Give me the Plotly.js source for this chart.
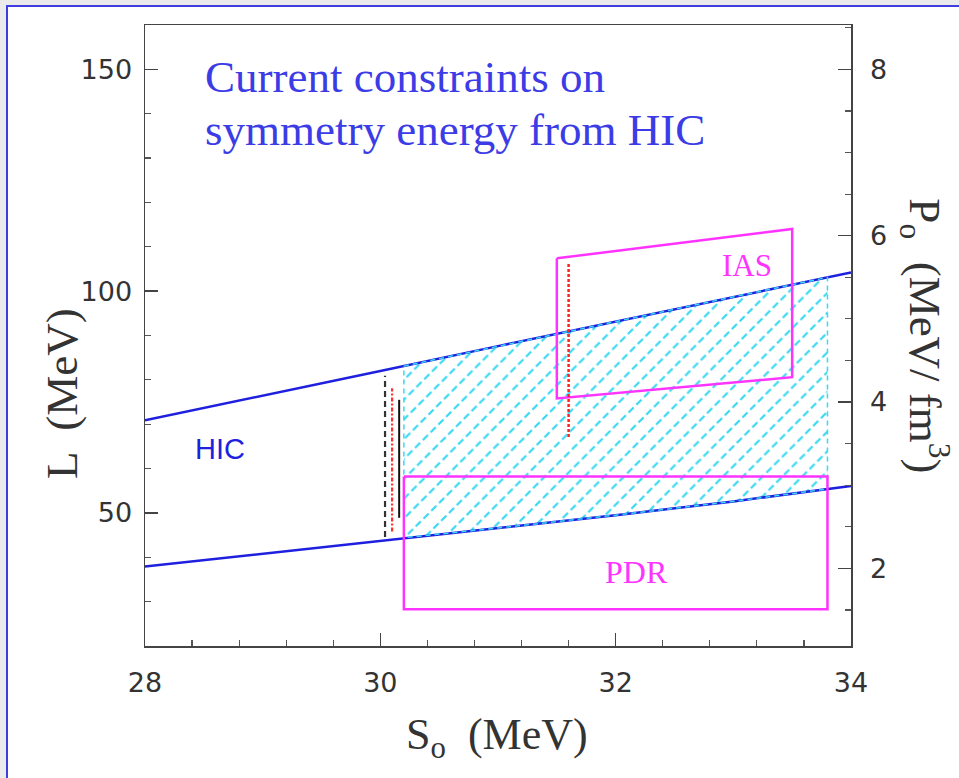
<!DOCTYPE html>
<html>
<head>
<meta charset="utf-8">
<script src="https://cdn.plot.ly/plotly-3.0.1.min.js"></script>
<style>
  html, body { margin: 0; padding: 0; background: #ebebeb; width: 959px; height: 778px; overflow: hidden; }
  #chart { position: absolute; left: 6px; top: 5px; width: 951px; height: 771px;
           border-left: 2px solid #3d3de0; border-top: 2px solid #3d3de0; background: #fff; }
</style>
</head>
<body>
<div id="chart"></div>
<script>
// HIC band boundaries (S0 in MeV, L in MeV)
const hicS = [28, 29, 30, 31, 32, 33, 34];
const hicUpperL = [70.9, 76.4, 82.0, 87.6, 93.1, 98.7, 104.2];
const hicLowerL = [37.9, 40.8, 43.8, 46.6, 49.5, 52.6, 56.1];

// hatched overlap region
const bandS = [30.2, 31, 32, 33, 33.8];
const bandUpperL = [83.1, 87.6, 93.1, 98.7, 103.1];
const bandLowerL = [44.4, 46.6, 49.5, 52.6, 55.4];

// IAS quadrilateral
const iasS = [31.5, 33.5, 33.5, 31.5, 31.5];
const iasL = [107.4, 114.0, 80.6, 75.8, 107.4];

// PDR rectangle
const pdrS = [30.2, 33.8, 33.8, 30.2, 30.2];
const pdrL = [58.2, 58.2, 28.3, 28.3, 58.2];

// vertical constraint segments
const segBlackDashS = [30.04, 30.04], segBlackDashL = [44.6, 80.9];
const segRedDashDotS = [30.10, 30.10], segRedDashDotL = [45.8, 78.1];
const segBlackSolidS = [30.16, 30.16], segBlackSolidL = [48.9, 75.5];
const segRedIasS = [31.6, 31.6], segRedIasL = [67.1, 106.5];

// axes
const xTicks = [28, 30, 32, 34];
const yTicks = [50, 100, 150];
const pTicks = [2, 4, 6, 8];
const yRange = [20, 160];
const rho0Over3 = 0.16 / 3;  // P0 = L * rho0 / 3

const blue = '#1f1fe0';
const magenta = '#ff33ff';
const cyan = '#3ad8f2';

const polyS = bandS.concat(bandS.slice().reverse(), [bandS[0]]);
const polyL = bandUpperL.concat(bandLowerL.slice().reverse(), [bandUpperL[0]]);

const traces = [
  { x: polyS, y: polyL, type: 'scatter', mode: 'lines', fill: 'toself',
    fillcolor: 'rgba(0,0,0,0)',
    fillpattern: { shape: '/', fgcolor: cyan, bgcolor: 'rgba(0,0,0,0)', size: 14, solidity: 0.16 },
    line: { color: 'rgba(0,0,0,0)', width: 0 }, hoverinfo: 'skip' },
  { x: polyS, y: polyL, type: 'scatter', mode: 'lines', fill: 'toself',
    fillcolor: 'rgba(0,0,0,0)',
    fillpattern: { shape: '\\', fgcolor: '#ffffff', bgcolor: 'rgba(0,0,0,0)', size: 11, solidity: 0.35 },
    line: { color: 'rgba(0,0,0,0)', width: 0 }, hoverinfo: 'skip' },
  { x: hicS, y: hicUpperL, type: 'scatter', mode: 'lines', line: { color: blue, width: 2.5 } },
  { x: hicS, y: hicLowerL, type: 'scatter', mode: 'lines', line: { color: blue, width: 2.5 } },
  { x: polyS, y: polyL, type: 'scatter', mode: 'lines', line: { color: cyan, width: 1.5, dash: '5px,4px' } },
  { x: iasS, y: iasL, type: 'scatter', mode: 'lines', line: { color: magenta, width: 2.5 } },
  { x: pdrS, y: pdrL, type: 'scatter', mode: 'lines', line: { color: magenta, width: 2.5 } },
  { x: segBlackDashS, y: segBlackDashL, type: 'scatter', mode: 'lines', line: { color: '#333', width: 2.2, dash: '6px,4px' } },
  { x: segRedDashDotS, y: segRedDashDotL, type: 'scatter', mode: 'lines', line: { color: '#ff3030', width: 2.2, dash: '4px,2px,2px,2px' } },
  { x: segBlackSolidS, y: segBlackSolidL, type: 'scatter', mode: 'lines', line: { color: '#111', width: 2 } },
  { x: segRedIasS, y: segRedIasL, type: 'scatter', mode: 'lines', line: { color: '#ff2020', width: 2.5, dash: '3px,2px' } },
  { x: [28, 34], y: [yRange[0] * rho0Over3, yRange[1] * rho0Over3], yaxis: 'y2', type: 'scatter',
    mode: 'markers', marker: { opacity: 0 }, hoverinfo: 'skip' }
];

const tickFont = { family: 'DejaVu Sans', size: 27, color: '#333' };
const serif = 'Liberation Serif';

const layout = {
  width: 951, height: 771,
  margin: { l: 137, r: 108, t: 18, b: 132 },
  paper_bgcolor: '#fff', plot_bgcolor: '#fff',
  showlegend: false,
  xaxis: {
    range: [28, 34], tickvals: xTicks, ticktext: xTicks.map(String),
    ticks: 'inside', ticklen: 13, tickwidth: 1.3, tickcolor: '#444',
    minor: { dtick: 0.4, tick0: 28, ticks: 'inside', ticklen: 6, tickwidth: 1.2, tickcolor: '#555' },
    showline: true, linecolor: '#444', linewidth: 1.5, mirror: true,
    showgrid: false, zeroline: false, tickfont: tickFont, ticklabelstandoff: 12
  },
  yaxis: {
    range: yRange, tickvals: yTicks, ticktext: yTicks.map(String),
    ticks: 'inside', ticklen: 13, tickwidth: 1.3, tickcolor: '#444',
    minor: { dtick: 10, tick0: 0, ticks: 'inside', ticklen: 6, tickwidth: 1.2, tickcolor: '#555' },
    showline: true, linecolor: '#444', linewidth: 1.5,
    showgrid: false, zeroline: false, tickfont: tickFont, ticklabelstandoff: 6
  },
  yaxis2: {
    overlaying: 'y', side: 'right',
    range: [yRange[0] * rho0Over3, yRange[1] * rho0Over3],
    tickvals: pTicks, ticktext: pTicks.map(String),
    ticks: 'inside', ticklen: 13, tickwidth: 1.3, tickcolor: '#444',
    minor: { dtick: 0.5, tick0: 0, ticks: 'inside', ticklen: 6, tickwidth: 1.2, tickcolor: '#555' },
    showline: true, linecolor: '#444', linewidth: 1.5,
    showgrid: false, zeroline: false, tickfont: tickFont, ticklabelstandoff: 12
  },
  annotations: [
    { text: 'Current constraints on', x: 28.49, y: 148.2, xref: 'x', yref: 'y', xanchor: 'left', yanchor: 'middle',
      showarrow: false, font: { family: serif, size: 45, color: '#3c3ce6' } },
    { text: 'symmetry energy from HIC', x: 28.49, y: 136.3, xref: 'x', yref: 'y', xanchor: 'left', yanchor: 'middle',
      showarrow: false, font: { family: serif, size: 45, color: '#3c3ce6' } },
    { text: 'HIC', x: 28.64, y: 64.4, xref: 'x', yref: 'y', showarrow: false,
      font: { family: 'Liberation Sans', size: 29, color: blue } },
    { text: 'IAS', x: 33.12, y: 105.7, xref: 'x', yref: 'y', showarrow: false,
      font: { family: serif, size: 31, color: magenta } },
    { text: 'PDR', x: 32.18, y: 36.7, xref: 'x', yref: 'y', showarrow: false,
      font: { family: serif, size: 32, color: magenta } },
    { text: 'S<sub>o</sub>  (MeV)', x: 0.4986, y: -0.148, xref: 'paper', yref: 'paper', showarrow: false,
      xanchor: 'center', yanchor: 'middle', font: { family: serif, size: 44, color: '#333' } },
    { text: 'L  (MeV)', x: -0.1176, y: 0.4074, xref: 'paper', yref: 'paper', showarrow: false, textangle: -90,
      xanchor: 'center', yanchor: 'middle', font: { family: serif, size: 45, color: '#333' } },
    { text: 'P<sub>o</sub>  (MeV/ fm<sup>3</sup>)', x: 1.105, y: 0.50, xref: 'paper', yref: 'paper', showarrow: false, textangle: 90,
      xanchor: 'center', yanchor: 'middle', font: { family: serif, size: 45, color: '#333' } }
  ]
};

Plotly.newPlot('chart', traces, layout, { staticPlot: true, displayModeBar: false });
</script>
</body>
</html>
